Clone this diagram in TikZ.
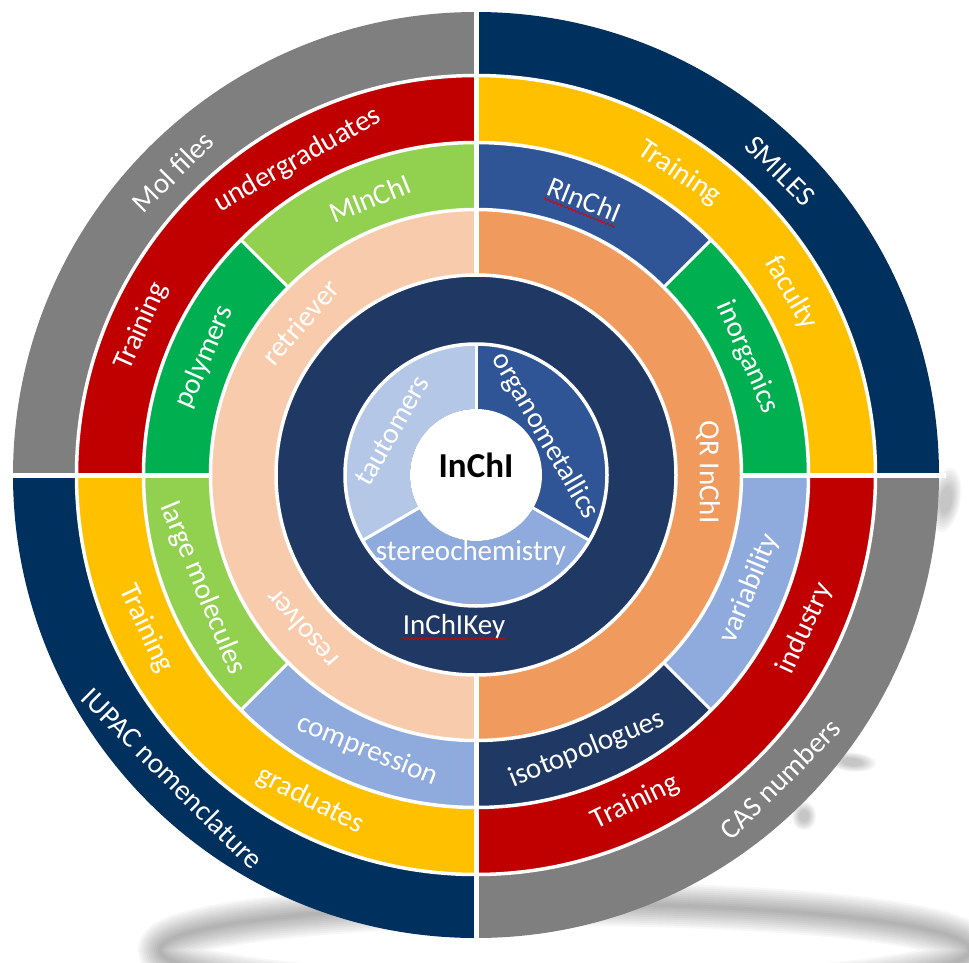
\documentclass[tikz,border=0pt]{standalone}
\usepackage{fontspec}
\setmainfont{Carlito}
\usetikzlibrary{calc,decorations.pathmorphing}
\definecolor{cgray}{HTML}{7F7F7F}
\definecolor{cnavy}{HTML}{00305E}
\definecolor{cred}{HTML}{C00000}
\definecolor{cyellow}{HTML}{FFC000}
\definecolor{cgreen}{HTML}{00B050}
\definecolor{clgreen}{HTML}{92D050}
\definecolor{cblue}{HTML}{2F5597}
\definecolor{clblue}{HTML}{8FAADC}
\definecolor{cdnavy}{HTML}{203864}
\definecolor{cpeach}{HTML}{F8CBAD}
\definecolor{corange}{HTML}{F19A5D}
\definecolor{ctaut}{HTML}{B4C7E7}
\newcommand\annsec[5]{%
  \fill[#1] (#2:#4) arc[start angle=#2, end angle=#3, radius=#4] -- (#3:#5) arc[start angle=#3, end angle=#2, radius=#5] -- cycle;}
\newcommand\softblob[5]{%
  \foreach \k in {1,...,8} {\fill[black, opacity=0.03, rotate around={#5:(#1,#2)}] (#1,#2) ellipse[x radius={#3*(1.3-0.1*\k)}, y radius={#4*(1.3-0.1*\k)}];}}
\tikzset{
  lbl/.style={text=white, font=\fontsize{29}{34}\selectfont, inner sep=0pt},
  ringsep/.style={white, line width=3.5pt},
  quadsep/.style={white, line width=5pt},
  segsep/.style={white, line width=3pt},
  squiggle/.style={red!85!black, line width=0.8pt, decorate, decoration={snake, amplitude=1pt, segment length=4pt}}
}
\begin{document}
\begin{tikzpicture}[x=1pt,y=1pt]
\useasboundingbox (0,0) rectangle (969,-963);
% shadow
\begin{scope}
\clip (0,0) rectangle (969,-963);
\foreach \w in {4,8,...,44} \draw[black, opacity=0.03, line width=\w pt] (565,-950) ellipse[x radius=405, y radius=46];
\softblob{946}{-500}{12}{27}{-10}
\softblob{852}{-762}{20}{8}{-5}
\softblob{804}{-816}{10}{12}{0}
\end{scope}
\begin{scope}[shift={(476,-475)}]
% ring 6
\annsec{cgray}{90}{180}{400}{463}
\annsec{cnavy}{0}{90}{400}{463}
\annsec{cnavy}{180}{270}{400}{463}
\annsec{cgray}{270}{360}{400}{463}
% ring 5
\annsec{cred}{90}{180}{333}{400}
\annsec{cyellow}{0}{90}{333}{400}
\annsec{cyellow}{180}{270}{333}{400}
\annsec{cred}{270}{360}{333}{400}
% ring 4
\annsec{clgreen}{90}{135}{265}{333}
\annsec{cgreen}{135}{180}{265}{333}
\annsec{cblue}{45}{90}{265}{333}
\annsec{cgreen}{0}{45}{265}{333}
\annsec{clgreen}{180}{225}{265}{333}
\annsec{clblue}{225}{270}{265}{333}
\annsec{cdnavy}{270}{315}{265}{333}
\annsec{clblue}{315}{360}{265}{333}
% ring 3
\annsec{cpeach}{90}{270}{200}{265}
\annsec{corange}{-90}{90}{200}{265}
% ring 2
\fill[cdnavy] (0,0) circle[radius=200];
% ring 1
\annsec{ctaut}{90}{210}{66}{131}
\annsec{clblue}{210}{330}{66}{131}
\annsec{cblue}{330}{450}{66}{131}
\fill[white] (0,0) circle[radius=66];
% separators
\foreach \r in {131,200,265.5,332.5,399.5} \draw[ringsep] (0,0) circle[radius=\r];
\draw[quadsep] (90:199) -- (90:470);
\draw[quadsep] (270:199) -- (270:470);
\draw[quadsep] (0:264) -- (0:470);
\draw[quadsep] (180:264) -- (180:470);
\foreach \a in {45,135,225,315} \draw[segsep] (\a:265) -- (\a:334);
\foreach \a in {90,210,330} \draw[segsep] (\a:64) -- (\a:132);
% labels ring 6
\node[lbl, rotate=45] (molfiles) at (135:429) {Mol files};
\node[lbl, rotate=-45] (smiles) at (45:430) {SMILES};
\node[lbl, rotate=-45] (iupac) at (225:429) {IUPAC nomenclature};
\node[lbl, rotate=45] (cas) at (-45:430) {CAS numbers};
% labels ring 5
\node[lbl, rotate=66] (trtl) at (156:366) {Training};
\node[lbl, rotate=29.5] (undergrad) at (119.5:362) {undergraduates};
\node[lbl, rotate=-34] (trtr) at (56:364) {Training};
\node[lbl, rotate=-60] (faculty) at (30:364) {faculty};
\node[lbl, rotate=-65] (trbl) at (205:364) {Training};
\node[lbl, rotate=-27] (graduates) at (243:365) {graduates};
\node[lbl, rotate=26] (trbr) at (-64:364) {Training};
\node[lbl, rotate=65] (industry) at (-25:363) {industry};
% labels ring 4
\node[lbl, rotate=22] (minchi) at (111:296) {MInChI};
\node[lbl, rotate=66.5] (polymers) at (156.5:296) {polymers};
\node[lbl, rotate=-22] (rinchi) at (68.5:296) {RInChI};
\node[lbl, rotate=-66.5] (inorganics) at (23.5:296) {inorganics};
\node[lbl, rotate=-67.5] (largemol) at (202.5:296) {large molecules};
\node[lbl, rotate=-22] (compression) at (248.5:296) {compression};
\node[lbl, rotate=22] (isotopo) at (-68:296) {isotopologues};
\node[lbl, rotate=67.5] (variability) at (-22.5:296) {variability};
% labels ring 3
\node[lbl, rotate=49] (retriever) at (139:233) {retriever};
\node[lbl, rotate=131.4] (resolver) at (221.4:233) {resolver};
\node[lbl, rotate=-90] (qrinchi) at (0.7:232) {QR InChI};
% ring 2
\node[lbl] (inchikey) at (-22,-152) {InChIKey};
% ring 1
\node[lbl, rotate=60] (tautomers) at (152:95) {tautomers};
\node[lbl, rotate=-60] (organo) at (29.6:79) {organometallics};
\node[lbl] (stereo) at (-5,-78) {stereochemistry};
\node[font=\fontsize{35}{40}\selectfont\bfseries, text=black, inner sep=0pt] (inchi) at (0,10) {InChI};
% spell-check squiggles
\draw[squiggle] ($(inchikey.base west)!4pt!-90:(inchikey.base east)$) -- ($(inchikey.base east)!4pt!90:(inchikey.base west)$);
\draw[squiggle] ($(rinchi.base west)!4pt!-90:(rinchi.base east)$) -- ($(rinchi.base east)!4pt!90:(rinchi.base west)$);
\end{scope}
\end{tikzpicture}
\end{document}
